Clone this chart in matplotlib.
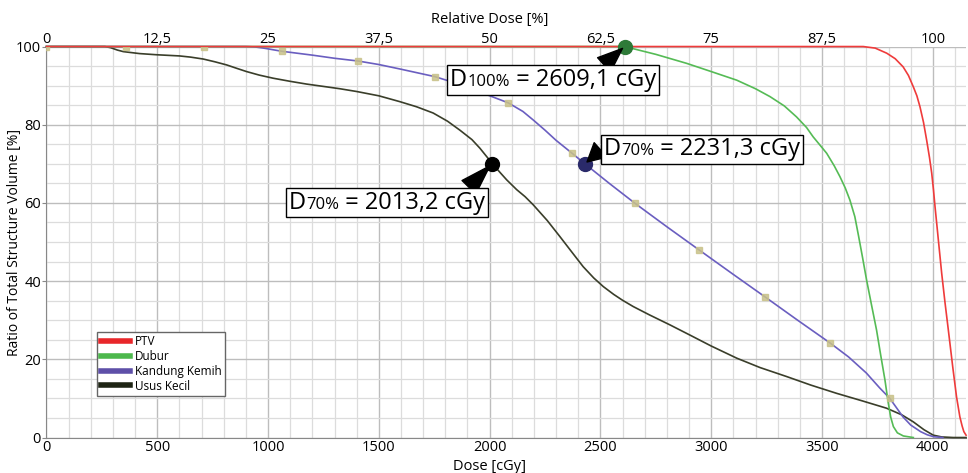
import matplotlib.pyplot as plt
from matplotlib.offsetbox import TextArea, HPacker, AnnotationBbox

plt.rcParams['font.family'] = ['Open Sans', 'DejaVu Sans']

## ------------------------------------------------ DATA -----------------------------------------------
#region

ptv_dose = [0, 3686, 3740, 3792, 3830, 3866, 3890, 3912, 3928, 3942, 3958, 3972, 3985, 3995, 4003, 4010, 4018,
            4025, 4040, 4055, 4070, 4090, 4107, 4122, 4132, 4140, 4150]
ptv_vol = [100, 100, 99.6, 98.3, 96.9, 94.8, 92.6, 89.7, 87.4, 84.6, 80.6, 76.1, 71.6, 67.6, 63.3, 59, 54.5,
           50.5, 42, 34.5, 27.5, 18, 10.4, 5.3, 3.0, 1.5, 0.6]

dubur_dose = [0, 2609, 2750, 2889, 3000, 3115, 3200, 3265, 3330, 3385, 3430, 3460, 3495, 3521, 3555, 3581, 3605,
              3626, 3648, 3665, 3683, 3701, 3723, 3746, 3765, 3784, 3799, 3810, 3822, 3840, 3867, 3912]
dubur_vol = [100, 100, 98.0, 95.7, 93.6, 91.4, 89.2, 87.2, 84.8, 82, 79.3, 76.9, 74.5, 72.7, 69.5, 66.7, 63.8,
             60.7, 56.5, 51.5, 46, 40.3, 34, 27.5, 21, 14.7, 8.8, 5.2, 2.8, 1.2, 0.4, 0]

kemih_dose = [0, 900, 940, 980, 1061, 1200, 1300, 1406, 1500, 1600, 1753, 1850, 1950, 2084, 2150, 2197, 2250,
              2300, 2370, 2430, 2540, 2656, 2800, 2946, 3100, 3242, 3390, 3536, 3620, 3700, 3760, 3806, 3840,
              3865, 3900, 3945, 3975, 4004, 4045]
kemih_vol = [100, 100, 99.9, 99.6, 98.8, 97.8, 97.0, 96.3, 95.4, 94.2, 92.3, 90.6, 88.5, 85.6, 83.4, 81.2, 78.6,
             76.0, 72.8, 70, 65, 59.9, 53.9, 47.95, 41.7, 36.0, 30.0, 24.2, 20.6, 16.5, 12.7, 10.0, 7.3,
             5.3, 3.2, 1.5, 0.7, 0.2, 0]

usus_dose = [0, 264, 290, 320, 347, 420, 497, 600, 650, 708, 760, 813, 860, 903, 960, 1023, 1100, 1174, 1250,
             1325, 1400, 1500, 1595, 1670, 1745, 1810, 1866, 1920, 1956, 2013, 2050, 2077, 2122, 2160, 2197, 2260,
             2317, 2370, 2422, 2470, 2513, 2560, 2600, 2648, 2720, 2814, 2904, 3000, 3115, 3220, 3340, 3450,
             3566, 3680, 3791, 3860, 3912, 3960, 4002, 4040, 4092, 4150]
usus_vol = [100, 100, 99.7, 99.1, 98.7, 98.2, 97.9, 97.6, 97.3, 96.8, 96.1, 95.3, 94.4, 93.6, 92.7, 91.9, 91.1,
            90.4, 89.8, 89.2, 88.5, 87.4, 85.9, 84.6, 83.0, 80.9, 78.6, 76.2, 74, 70, 67.6, 65.9, 63.4, 61.6,
            59.5, 55.5, 51.4, 47.5, 43.7, 40.8, 38.6, 36.6, 35.1, 33.5, 31.4, 28.8, 26.2, 23.4, 20.3, 17.9,
            15.6, 13.4, 11.3, 9.4, 7.5, 5.8, 4.0, 2.0, 0.6, 0.15, 0, 0]

# sample markers on Kandung Kemih curve
marker_dose = [0, 359, 711, 1061, 1406, 1753, 2084, 2370, 2656, 2946, 3242, 3536, 3806]
marker_vol = [100, 100, 100, 98.8, 96.3, 92.3, 85.6, 72.8, 59.9, 47.95, 36.0, 24.2, 10.0]

# annotated points: (dose, volume, subscript, value text)
points = [
    (2609, 100, "100%", " = 2609,1 cGy"),
    (2430, 70, "70%", " = 2231,3 cGy"),
    (2010, 70, "70%", " = 2013,2 cGy"),
]
box_pos = [(2286, 91.4), (2958, 73.7), (1538, 60.1)]

x_ticks = [0, 500, 1000, 1500, 2000, 2500, 3000, 3500, 4000]
y_ticks = [0, 20, 40, 60, 80, 100]
rel_ticks = [0, 12.5, 25, 37.5, 50, 62.5, 75, 87.5, 100]

#endregion

COLORS = {"PTV": "#ef3b3b", "Dubur": "#55bb55", "Kandung Kemih": "#6a5ec0", "Usus Kecil": "#3a3e2a"}
LEGEND_COLORS = {"PTV": "#e8262a", "Dubur": "#4cb84c", "Kandung Kemih": "#5e4fa8", "Usus Kecil": "#1e2414"}
DOT_COLORS = ["#2e7a38", "#2a2a6a", "#000000"]

## ---------------------------------------------------- FIGURE ---------------------------------------------------------
fig = plt.figure(figsize=(9.68, 4.73), dpi=100)
ax = fig.add_axes([0.048, 0.075, 0.95, 0.8266])

ax.set_xlim(0, 4150)
ax.set_ylim(0, 100)

# grid
ax.set_xticks(x_ticks)
ax.set_xticks(range(0, 4151, 100), minor=True)
ax.set_yticks(y_ticks)
ax.set_yticks(range(0, 101, 5), minor=True)
ax.grid(which="minor", color="#dcdcdc", lw=0.9)
ax.grid(which="major", color="#bdbdbd", lw=1.0)
ax.set_axisbelow(True)

for s in ["top", "right"]:
    ax.spines[s].set_visible(False)
for s in ["left", "bottom"]:
    ax.spines[s].set_color("#888888")

ax.tick_params(which="both", length=0)
ax.tick_params(which="major", labelsize=10.5, pad=2)
ax.tick_params(axis="y", which="major", length=3, color="#888888", pad=1)

ax.set_xlabel("Dose [cGy]", fontsize=10.5, labelpad=0)
ax.xaxis.set_label_coords(0.482, -0.055)
ax.set_ylabel("Ratio of Total Structure Volume [%]", fontsize=10)
ax.yaxis.set_label_coords(-0.027, 0.5)

top = ax.secondary_xaxis("top", functions=(lambda d: d / 40, lambda p: p * 40))
top.set_xticks(rel_ticks)
top.set_xticklabels([f"{v:g}".replace(".", ",") for v in rel_ticks])
top.tick_params(length=0, labelsize=10.5, pad=0)
top.spines["top"].set_visible(False)
fig.text(490 / 968, 1 - 19 / 473, "Relative Dose [%]", fontsize=10.5, ha="center", va="center")

# curves
series = [("PTV", ptv_dose, ptv_vol), ("Dubur", dubur_dose, dubur_vol),
          ("Kandung Kemih", kemih_dose, kemih_vol), ("Usus Kecil", usus_dose, usus_vol)]
order = ["Usus Kecil", "Kandung Kemih", "Dubur", "PTV"]
for name, d, v in sorted(series, key=lambda s: order.index(s[0])):
    ax.plot(d, v, color=COLORS[name], lw=1.2, clip_on=False, zorder=3 + order.index(name),
            solid_joinstyle="round")

ax.plot(marker_dose, marker_vol, ls="none", marker="s", ms=4, color="#c9c28a", alpha=0.85, zorder=8)

# legend (handles with legend colours)
handles = [plt.Line2D([], [], color=LEGEND_COLORS[n], lw=4) for n, _, _ in series]
leg = ax.legend(handles, [n for n, _, _ in series], loc="lower left", bbox_to_anchor=(0.055, 0.106),
                fontsize=8.5, handlelength=2.5, handletextpad=0.4, labelspacing=0.15,
                borderpad=0.3, fancybox=False, framealpha=1, borderaxespad=0)
leg.get_frame().set_edgecolor("#666666")
leg.get_frame().set_linewidth(1.0)

# annotations
relpos = [(0.73, 1.0), (0.0, 0.6), (0.9, 1.0)]
for (d, v, sub, txt), (bx, by), col, rp in zip(points, box_pos, DOT_COLORS, relpos):
    ax.plot(d, v, "o", ms=10, color=col, zorder=10, clip_on=False)
    parts = [TextArea("D", textprops=dict(fontsize=17)),
             TextArea(sub, textprops=dict(fontsize=12)),
             TextArea(txt, textprops=dict(fontsize=17))]
    pack = HPacker(children=parts, align="baseline", pad=0, sep=0)
    ab = AnnotationBbox(pack, (d, v), xybox=(bx, by), xycoords="data", boxcoords="data",
                        frameon=True, pad=0.2, box_alignment=(0.5, 0.5), zorder=11,
                        bboxprops=dict(edgecolor="black", facecolor="white", lw=1.0, boxstyle="square,pad=0.2"),
                        arrowprops=dict(arrowstyle="wedge,tail_width=1.0,shrink_factor=0.5", fc="black",
                                        ec="black", relpos=rp, shrinkA=0, shrinkB=2))
    ax.add_artist(ab)

fig.savefig("out.png", dpi=100)
